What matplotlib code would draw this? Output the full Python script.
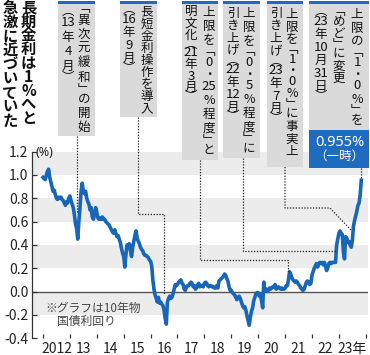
"""
    plot.py
        -- 10-year JGB yield 2012-2023 with BOJ policy call-outs
"""
import matplotlib

matplotlib.use("Agg")
import matplotlib.pyplot as plt
import numpy as np
from matplotlib.patches import Rectangle

# 10-year JGB yield (%), two readings per month from Jan 2012
y2012 = [0.98, 0.97, 0.96, 1.00, 1.03, 1.05, 0.98, 0.94, 0.90, 0.86, 0.87, 0.83,
         0.80, 0.79, 0.81, 0.80, 0.81, 0.79, 0.78, 0.76, 0.74, 0.77, 0.76, 0.80]
y2013 = [0.82, 0.78, 0.75, 0.72, 0.66, 0.58, 0.54, 0.45, 0.60, 0.72, 0.86, 0.93,
         0.86, 0.84, 0.86, 0.80, 0.77, 0.75, 0.70, 0.72, 0.64, 0.62, 0.67, 0.72]
y2014 = [0.68, 0.63, 0.62, 0.63, 0.62, 0.64, 0.62, 0.62, 0.60, 0.59, 0.58, 0.57,
         0.55, 0.53, 0.51, 0.50, 0.53, 0.50, 0.47, 0.48, 0.45, 0.42, 0.37, 0.33]
y2015 = [0.30, 0.21, 0.32, 0.40, 0.38, 0.41, 0.35, 0.30, 0.38, 0.43, 0.48, 0.52,
         0.46, 0.43, 0.41, 0.38, 0.36, 0.35, 0.32, 0.31, 0.31, 0.30, 0.29, 0.27]
y2016 = [0.26, 0.22, 0.10, 0.02, -0.03, -0.06, -0.09, -0.05, -0.10, -0.09, -0.11, -0.12,
         -0.16, -0.23, -0.28, -0.09, -0.06, -0.04, -0.06, -0.05, -0.02, 0.02, 0.06, 0.05]
y2017 = [0.06, 0.08, 0.09, 0.10, 0.07, 0.06, 0.02, 0.01, 0.04, 0.05, 0.05, 0.07,
         0.08, 0.07, 0.04, 0.05, 0.02, 0.03, 0.06, 0.07, 0.04, 0.05, 0.05, 0.04]
y2018 = [0.07, 0.08, 0.07, 0.05, 0.04, 0.05, 0.05, 0.04, 0.04, 0.03, 0.03, 0.05,
         0.03, 0.09, 0.10, 0.11, 0.12, 0.13, 0.15, 0.14, 0.11, 0.09, 0.04, 0.01]
y2019 = [0.01, -0.01, -0.02, -0.03, -0.05, -0.07, -0.05, -0.04, -0.06, -0.09, -0.12, -0.14,
         -0.13, -0.16, -0.21, -0.25, -0.29, -0.22, -0.17, -0.14, -0.08, -0.05, -0.02, -0.01]
y2020 = [-0.01, -0.04, -0.03, -0.08, -0.14, 0.08, 0.00, 0.02, 0.00, 0.01, 0.03, 0.02,
         0.03, 0.04, 0.04, 0.06, 0.02, 0.03, 0.04, 0.03, 0.02, 0.03, 0.02, 0.02]
y2021 = [0.03, 0.05, 0.05, 0.10, 0.17, 0.15, 0.12, 0.10, 0.09, 0.08, 0.09, 0.08,
         0.06, 0.05, 0.03, 0.02, 0.01, 0.02, 0.05, 0.08, 0.09, 0.08, 0.06, 0.07]
y2022 = [0.14, 0.17, 0.20, 0.22, 0.24, 0.21, 0.24, 0.25, 0.24, 0.25, 0.23, 0.25,
         0.22, 0.18, 0.20, 0.24, 0.25, 0.24, 0.25, 0.25, 0.25, 0.25, 0.40, 0.45]
y2023 = [0.50, 0.52, 0.50, 0.49, 0.34, 0.28, 0.47, 0.46, 0.42, 0.43, 0.40, 0.38,
         0.44, 0.56, 0.61, 0.65, 0.69, 0.74, 0.76, 0.83, 0.955]

yields = (y2012 + y2013 + y2014 + y2015 + y2016 + y2017 + y2018 + y2019
          + y2020 + y2021 + y2022 + y2023)
years = 2012 + np.arange(len(yields)) / 24

ytick_vals = [-0.4, -0.2, 0.0, 0.2, 0.4, 0.6, 0.8, 1.0, 1.2]
xtick_years = list(range(2012, 2025))
year_labels = ["2012", "13", "14", "15", "16", "17", "18", "19", "20", "21", "22", "23年"]

title_cols = ["長期金利は1%へと", "急激に近づいていた"]
event_cols = [
    ["「異次元緩和」の開始", "（13年4月）"],
    ["長短金利操作を導入", "（16年9月）"],
    ["上限を「0・25%程度」と", "明文化（21年3月）"],
    ["上限を「0・5%程度」に", "引き上げ（22年12月）"],
    ["上限を「1・0%」に事実上", "引き上げ（23年7月）"],
    ["上限の「1・0%」を", "「めど」に変更", "（23年10月31日）"],
]
event_dates = [2013.26, 2016.51, 2021.12, 2022.89, 2023.48, years[-1]]
event_values = [0.67, -0.03, 0.17, 0.35, 0.52, yields[-1]]
peak_text = ["0.955%", "（一時）"]
note_lines = ["※グラフは10年物", "国債利回り"]

BLUE = "#1766b8"
BOX_BLUE = "#1d6cc0"
GRAY_BOX = "#dadada"
BAND = "#ececec"
JP = ["Noto Sans CJK JP", "DejaVu Sans"]
NUM = ["Liberation Sans Narrow", "Noto Sans CJK JP", "DejaVu Sans"]
VERT = {"「": "﹁", "」": "﹂", "（": "︵", "）": "︶"}

W, H = 370, 355


def tokens(s):
    out = []
    for ch in s:
        if ch.isdigit() and out and out[-1].isdigit():
            out[-1] += ch
        else:
            out.append(ch)
    return out


def vcolumn(ax, x, top, bottom, s, size, **kw):
    """one column of vertical text spread between top and bottom (pixels)"""
    toks = tokens(s)
    w = [0.55 if t in VERT else 0.7 if t == "・" else 1.0 for t in toks]
    unit = (bottom - top) / sum(w)
    y = top
    for t, wi in zip(toks, w):
        if t.isdigit():
            ax.text(x, y + wi * unit / 2, t, ha="center", va="center",
                    fontsize=size + 0.5, family=NUM, **kw)
        else:
            ax.text(x, y + wi * unit / 2, VERT.get(t, t), ha="center", va="center",
                    fontsize=size, family=JP, **kw)
        y += wi * unit


fig = plt.figure(figsize=(W / 100, H / 100), dpi=100)
left, right, top, bottom = 31.7, 368, 151.7, 338.1
ax = fig.add_axes([left / W, (H - bottom) / H, (right - left) / W, (bottom - top) / H])

x0 = 2012 - (43 - left) / 26.9
ax.set_xlim(x0, x0 + (right - left) / 26.9)
ax.set_ylim(-0.4, 1.2)

for lo, hi in zip(ytick_vals[1::2], ytick_vals[2::2]):
    ax.axhspan(lo, hi, color=BAND, lw=0, zorder=0)
ax.axhline(0, color="#555555", lw=1.0, zorder=1)
ax.plot(years, yields, color=BLUE, lw=2.6, solid_joinstyle="round", zorder=3)

ax.set_yticks(ytick_vals)
ax.set_yticklabels([f"{v:.1f}" for v in ytick_vals])
ax.set_xticks(xtick_years)
ax.set_xticklabels([])
ax.set_xticks([y + 0.5 for y in xtick_years[:-1]], minor=True)
ax.set_xticklabels(year_labels, minor=True)
ax.tick_params(axis="y", direction="in", length=3.5, width=0.9, color="#333333",
               labelsize=10, pad=2.5, labelcolor="#222222")
ax.tick_params(axis="x", which="major", direction="in", length=3, width=0.9, color="#333333")
ax.tick_params(axis="x", which="minor", length=0, labelsize=10, pad=2.5, labelcolor="#222222")
for lbl in ax.get_yticklabels() + ax.get_xticklabels(minor=True):
    lbl.set_fontfamily(NUM)
for side in ["top", "right", "bottom"]:
    ax.spines[side].set_visible(False)
ax.spines["left"].set_color("#333333")
ax.spines["left"].set_linewidth(0.9)

# overlay in pixel coordinates for the call-out boxes
ov = fig.add_axes([0, 0, 1, 1])
ov.set_xlim(0, W)
ov.set_ylim(H, 0)
ov.axis("off")
ov.set_zorder(5)


def data_px(x, y):
    d = ax.transData.transform((x, y))
    return d[0], H - d[1]


# title
vcolumn(ov, 28.5, 1, 125, title_cols[0], 11, fontweight="bold", color="#111111")
vcolumn(ov, 10, 1, 128, title_cols[1], 11, fontweight="bold", color="#111111")

# boxes: (x left, x right, gray bottom, [(col x, top, bottom), ...])
boxes = [
    (58, 95, 136, [(84, 5, 135), (68, 7, 82)]),
    (120, 157, 117, [(147, 6, 115), (129, 6, 72)]),
    (182, 218, 160, [(209, 6, 157), (191, 6, 100)]),
    (223, 260, 158, [(249, 7, 155), (233, 7, 120)]),
    (267, 303, 167, [(292, 8, 158), (276, 7, 122)]),
    (309, 369, 130, [(357, 8, 127), (339, 8, 85), (321, 8, 100)]),
]
for (bx0, bx1, bb, cols), texts in zip(boxes, event_cols):
    ov.add_patch(Rectangle((bx0, 4), bx1 - bx0, bb - 4, color=GRAY_BOX, lw=0))
    ov.add_patch(Rectangle((bx0, 1), bx1 - bx0, 3, color=BOX_BLUE, lw=0))
    for (cx, ct, cb), s in zip(cols, texts):
        vcolumn(ov, cx, ct, cb, s, 9, color="#111111")

# latest value box
ov.add_patch(Rectangle((309, 130), 60, 38, color=BOX_BLUE, lw=0))
ov.text(339.5, 142, peak_text[0], ha="center", va="center", fontsize=10.5,
        fontweight="bold", color="white", family=["Noto Sans", "DejaVu Sans"])
ov.text(339.5, 156, peak_text[1], ha="center", va="center", fontsize=9,
        color="white", family=JP)

# dotted connectors
dxy = [data_px(d, v) for d, v in zip(event_dates, event_values)]
paths = [
    [(dxy[0][0], 136), dxy[0]],
    [(138, 117), (138, 214), (dxy[1][0], 214), dxy[1]],
    [(200, 160), (200, 260), (dxy[2][0], 260), dxy[2]],
    [(242.7, 158), (242.7, dxy[3][1]), dxy[3]],
    [(285, 167), (285, 208), (330, 208), dxy[4]],
    [(dxy[5][0], 168), dxy[5]],
]
for pts in paths:
    px, py = zip(*pts)
    ov.plot(px, py, color="#222222", lw=0.9, linestyle=(0, (1, 1.3)))

ov.text(36, 152.5, "(%)", ha="left", va="center", fontsize=9, color="#222222",
        family=["Noto Sans", "DejaVu Sans"])
ov.text(45, 308, note_lines[0], ha="left", va="center", fontsize=8.5, color="#444444", family=JP)
ov.text(57, 321.5, note_lines[1], ha="left", va="center", fontsize=8.5, color="#444444", family=JP)

fig.savefig("out.png", dpi=100)
